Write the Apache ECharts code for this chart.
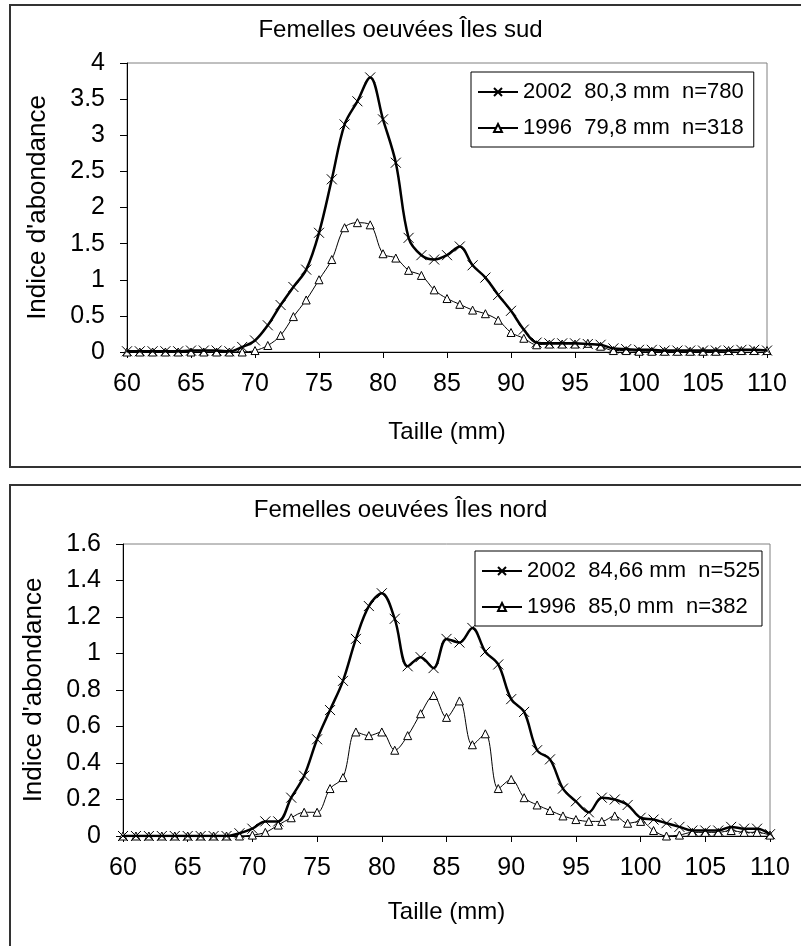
<!DOCTYPE html>
<html>
<head>
<meta charset="utf-8">
<script src="https://cdn.jsdelivr.net/npm/echarts@6/dist/echarts.min.js"></script>
<style>
html,body{margin:0;padding:0;background:#fff;}
#main{width:801px;height:946px;}
</style>
</head>
<body>
<div id="main"></div>
<script>
// Taille (mm)
const sizes = [60,61,62,63,64,65,66,67,68,69,70,71,72,73,74,75,76,77,78,79,80,81,82,83,84,85,86,87,88,89,90,91,92,93,94,95,96,97,98,99,100,101,102,103,104,105,106,107,108,109,110];

// Îles sud
const sud2002 = [0.01,0.01,0.01,0.01,0.01,0.02,0.02,0.02,0.01,0.07,0.16,0.37,0.65,0.90,1.14,1.65,2.39,3.15,3.47,3.80,3.22,2.62,1.58,1.34,1.28,1.34,1.46,1.20,1.03,0.79,0.57,0.31,0.13,0.12,0.12,0.12,0.11,0.10,0.05,0.04,0.03,0.03,0.02,0.02,0.02,0.02,0.02,0.02,0.03,0.03,0.02];
const sud1996 = [0,0,0,0,0,0,0,0,0,0,0.02,0.09,0.23,0.49,0.72,1.00,1.28,1.72,1.79,1.76,1.36,1.30,1.13,1.06,0.86,0.74,0.66,0.58,0.53,0.44,0.27,0.19,0.10,0.11,0.11,0.11,0.12,0.08,0.02,0.02,0.01,0.01,0.01,0.01,0.01,0.01,0.01,0.02,0.02,0.02,0.02];

// Îles nord
const nord2002 = [0,0,0,0,0,0,0,0,0,0.015,0.04,0.08,0.08,0.21,0.33,0.53,0.69,0.85,1.08,1.26,1.33,1.19,0.93,0.98,0.92,1.08,1.06,1.14,1.01,0.94,0.75,0.68,0.47,0.42,0.26,0.19,0.13,0.21,0.20,0.17,0.10,0.09,0.07,0.05,0.03,0.03,0.03,0.05,0.04,0.04,0.01];
const nord1996 = [0,0,0,0,0,0,0,0,0,0,0.005,0.02,0.06,0.10,0.13,0.13,0.26,0.32,0.57,0.55,0.57,0.47,0.55,0.67,0.77,0.65,0.74,0.50,0.56,0.26,0.31,0.21,0.17,0.14,0.11,0.09,0.08,0.08,0.11,0.07,0.08,0.03,0.00,0.005,0.02,0.02,0.02,0.03,0.02,0.02,0.005];

const titles = ['Femelles oeuvées Îles sud', 'Femelles oeuvées Îles nord'];
const names = ['2002  80,3 mm  n=780', '1996  79,8 mm  n=318', '2002  84,66 mm  n=525', '1996  85,0 mm  n=382'];
const xName = 'Taille (mm)';
const yName = "Indice d'abondance";
const xTicks = {min: 60, max: 110, interval: 5};
const yTicksSud = {min: 0, max: 4, interval: 0.5};
const yTicksNord = {min: 0, max: 1.6, interval: 0.2};

const FONT = "'Liberation Sans', Arial, sans-serif";
const crossPath = 'path://M0,0L10,10M10,0L0,10';

function pairs(vals){ return sizes.map((s,i)=>[s, vals[i]]); }

function xAxis(gi, gap){
  return {
    type:'value', gridIndex:gi, min:xTicks.min, max:xTicks.max, interval:xTicks.interval,
    name:xName, nameLocation:'middle', nameGap:gap,
    nameTextStyle:{color:'#000', fontSize:24, fontFamily:FONT},
    axisLine:{show:true, onZero:false, lineStyle:{color:'#000', width:1}},
    axisTick:{show:true, inside:false, length:6, lineStyle:{color:'#000'}},
    axisLabel:{color:'#000', fontSize:25, fontFamily:FONT, margin:20},
    splitLine:{show:false}
  };
}
function yAxis(gi, t){
  return {
    type:'value', gridIndex:gi, min:t.min, max:t.max, interval:t.interval,
    name:yName, nameLocation:'middle', nameGap:76, nameRotate:90,
    nameTextStyle:{color:'#000', fontSize:26, fontFamily:FONT},
    axisLine:{show:true, lineStyle:{color:'#000', width:1}},
    axisTick:{show:true, inside:false, length:7, lineStyle:{color:'#000'}},
    axisLabel:{color:'#000', fontSize:25, fontFamily:FONT, margin:22},
    splitLine:{show:false}
  };
}
function s2002(name, gi, vals){
  return {
    name:name, type:'line', xAxisIndex:gi, yAxisIndex:gi, data:pairs(vals),
    smooth:0.35, symbol:crossPath, symbolSize:10, z:3,
    lineStyle:{color:'#000', width:2.5},
    itemStyle:{color:'#000', borderColor:'#000', borderWidth:1}
  };
}
function s1996(name, gi, vals){
  return {
    name:name, type:'line', xAxisIndex:gi, yAxisIndex:gi, data:pairs(vals),
    smooth:0.35, symbol:'triangle', symbolSize:8, z:2,
    lineStyle:{color:'#000', width:1},
    itemStyle:{color:'#fff', borderColor:'#000', borderWidth:1}
  };
}
function legend(data, left, top, padRight){
  return {
    data:data, left:left, top:top, orient:'vertical',
    itemWidth:40, itemHeight:10, itemGap:14,
    backgroundColor:'#fff', borderColor:'#000', borderWidth:1,
    padding:[9,padRight,8,6],
    textStyle:{color:'#000', fontSize:22, fontFamily:FONT}
  };
}

const chart = echarts.init(document.getElementById('main'), null, {renderer:'canvas'});
chart.setOption({
  animation:false,
  backgroundColor:'#fff',
  title:[
    {text:titles[0], left:'center', top:13, textStyle:{color:'#000', fontSize:24, fontWeight:'normal', fontFamily:FONT}},
    {text:titles[1], left:'center', top:493, textStyle:{color:'#000', fontSize:24, fontWeight:'normal', fontFamily:FONT}}
  ],
  legend:[
    legend([names[0], names[1]], 471, 72, 10),
    legend([names[2], names[3]], 475, 551, 2)
  ],
  grid:[
    {left:127, top:63, width:640, height:289, show:true, borderColor:'#808080', borderWidth:1, backgroundColor:'transparent'},
    {left:123, top:544, width:647, height:292, show:true, borderColor:'#808080', borderWidth:1, backgroundColor:'transparent'}
  ],
  xAxis:[xAxis(0, 68), xAxis(1, 64)],
  yAxis:[yAxis(0, yTicksSud), yAxis(1, yTicksNord)],
  series:[
    s1996(names[1], 0, sud1996),
    s2002(names[0], 0, sud2002),
    s1996(names[3], 1, nord1996),
    s2002(names[2], 1, nord2002)
  ],
  graphic:[
    {type:'rect', shape:{x:10, y:5, width:900, height:462}, style:{fill:'none', stroke:'#333', lineWidth:2}, silent:true},
    {type:'rect', shape:{x:10, y:485, width:900, height:600}, style:{fill:'none', stroke:'#333', lineWidth:2}, silent:true}
  ]
});
</script>
</body>
</html>
